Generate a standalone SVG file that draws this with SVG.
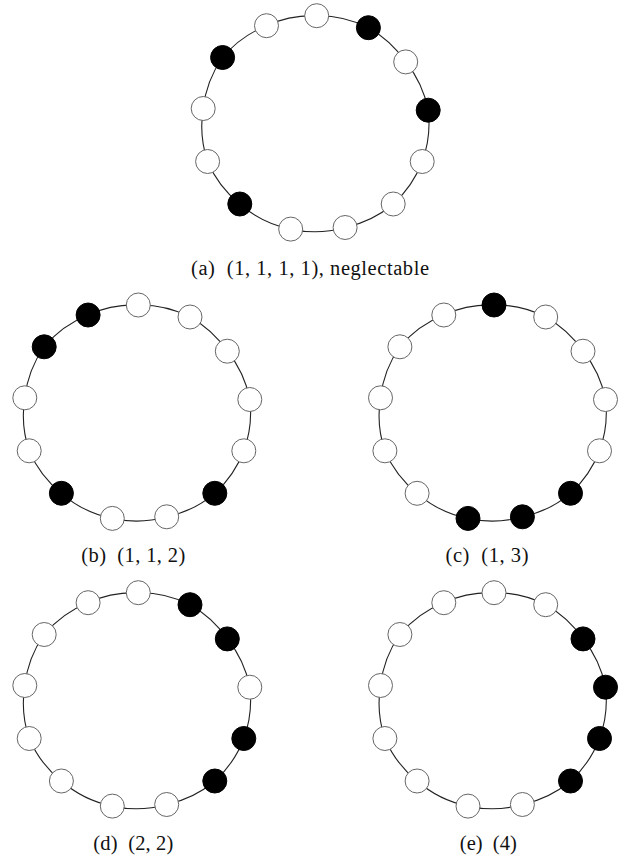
<svg xmlns="http://www.w3.org/2000/svg" xmlns:xlink="http://www.w3.org/1999/xlink" width="636" height="861" viewBox="0 0 636 861">
<style>
.ring{fill:none;stroke:#222;stroke-width:1.1}
.n{fill:#fff;stroke:#666;stroke-width:1}
.b{fill:#000;stroke:#000;stroke-width:1}
.lbl{font-family:"Liberation Serif","Times New Roman",serif;font-size:20.5px;fill:#111;text-anchor:middle}
</style>
<defs>
<path id="ring" d="M138.3,305 A110,110 0 0 1 190,317 A110,110 0 0 1 227.3,351.2 A110,110 0 0 1 249.8,399.5 A110,110 0 0 1 243.8,450.8 A110,110 0 0 1 214.8,493.3 A110,110 0 0 1 166.7,516.8 A110,110 0 0 1 112.3,518.4 A110,110 0 0 1 61.4,493.3 A110,110 0 0 1 29.2,450.8 A110,110 0 0 1 24.8,397.8 A110,110 0 0 1 44.2,346.8 A110,110 0 0 1 88.1,315 A110,110 0 0 1 138.3,305 Z"/>
</defs>
<rect width="636" height="861" fill="#fff"/>
<g id="connectors">
<use xlink:href="#ring" href="#ring" class="ring" transform="translate(178.4,-289.3)"/>
<use xlink:href="#ring" href="#ring" class="ring"/>
<use xlink:href="#ring" href="#ring" class="ring" transform="translate(355.7,0)"/>
<use xlink:href="#ring" href="#ring" class="ring" transform="translate(0,287.7)"/>
<use xlink:href="#ring" href="#ring" class="ring" transform="translate(355.7,287.7)"/>
</g>
<g id="panel-a" transform="translate(178.4,-289.3)">
<g id="a1"><circle class="n" cx="138.3" cy="305" r="12"/></g>
<g id="a2"><circle class="b" cx="190" cy="317" r="12"/></g>
<g id="a3"><circle class="n" cx="227.3" cy="351.2" r="12"/></g>
<g id="a4"><circle class="b" cx="249.8" cy="399.5" r="12"/></g>
<g id="a5"><circle class="n" cx="243.8" cy="450.8" r="12"/></g>
<g id="a6"><circle class="n" cx="214.8" cy="493.3" r="12"/></g>
<g id="a7"><circle class="n" cx="166.7" cy="516.8" r="12"/></g>
<g id="a8"><circle class="n" cx="112.3" cy="518.4" r="12"/></g>
<g id="a9"><circle class="b" cx="61.4" cy="493.3" r="12"/></g>
<g id="a10"><circle class="n" cx="29.2" cy="450.8" r="12"/></g>
<g id="a11"><circle class="n" cx="24.8" cy="397.8" r="12"/></g>
<g id="a12"><circle class="b" cx="44.2" cy="346.8" r="12"/></g>
<g id="a13"><circle class="n" cx="88.1" cy="315" r="12"/></g>
</g>
<g id="panel-b">
<g id="b1"><circle class="n" cx="138.3" cy="305" r="12"/></g>
<g id="b2"><circle class="n" cx="190" cy="317" r="12"/></g>
<g id="b3"><circle class="n" cx="227.3" cy="351.2" r="12"/></g>
<g id="b4"><circle class="n" cx="249.8" cy="399.5" r="12"/></g>
<g id="b5"><circle class="n" cx="243.8" cy="450.8" r="12"/></g>
<g id="b6"><circle class="b" cx="214.8" cy="493.3" r="12"/></g>
<g id="b7"><circle class="n" cx="166.7" cy="516.8" r="12"/></g>
<g id="b8"><circle class="n" cx="112.3" cy="518.4" r="12"/></g>
<g id="b9"><circle class="b" cx="61.4" cy="493.3" r="12"/></g>
<g id="b10"><circle class="n" cx="29.2" cy="450.8" r="12"/></g>
<g id="b11"><circle class="n" cx="24.8" cy="397.8" r="12"/></g>
<g id="b12"><circle class="b" cx="44.2" cy="346.8" r="12"/></g>
<g id="b13"><circle class="b" cx="88.1" cy="315" r="12"/></g>
</g>
<g id="panel-c" transform="translate(355.7,0)">
<g id="c1"><circle class="b" cx="138.3" cy="305" r="12"/></g>
<g id="c2"><circle class="n" cx="190" cy="317" r="12"/></g>
<g id="c3"><circle class="n" cx="227.3" cy="351.2" r="12"/></g>
<g id="c4"><circle class="n" cx="249.8" cy="399.5" r="12"/></g>
<g id="c5"><circle class="n" cx="243.8" cy="450.8" r="12"/></g>
<g id="c6"><circle class="b" cx="214.8" cy="493.3" r="12"/></g>
<g id="c7"><circle class="b" cx="166.7" cy="516.8" r="12"/></g>
<g id="c8"><circle class="b" cx="112.3" cy="518.4" r="12"/></g>
<g id="c9"><circle class="n" cx="61.4" cy="493.3" r="12"/></g>
<g id="c10"><circle class="n" cx="29.2" cy="450.8" r="12"/></g>
<g id="c11"><circle class="n" cx="24.8" cy="397.8" r="12"/></g>
<g id="c12"><circle class="n" cx="44.2" cy="346.8" r="12"/></g>
<g id="c13"><circle class="n" cx="88.1" cy="315" r="12"/></g>
</g>
<g id="panel-d" transform="translate(0,287.7)">
<g id="d1"><circle class="n" cx="138.3" cy="305" r="12"/></g>
<g id="d2"><circle class="b" cx="190" cy="317" r="12"/></g>
<g id="d3"><circle class="b" cx="227.3" cy="351.2" r="12"/></g>
<g id="d4"><circle class="n" cx="249.8" cy="399.5" r="12"/></g>
<g id="d5"><circle class="b" cx="243.8" cy="450.8" r="12"/></g>
<g id="d6"><circle class="b" cx="214.8" cy="493.3" r="12"/></g>
<g id="d7"><circle class="n" cx="166.7" cy="516.8" r="12"/></g>
<g id="d8"><circle class="n" cx="112.3" cy="518.4" r="12"/></g>
<g id="d9"><circle class="n" cx="61.4" cy="493.3" r="12"/></g>
<g id="d10"><circle class="n" cx="29.2" cy="450.8" r="12"/></g>
<g id="d11"><circle class="n" cx="24.8" cy="397.8" r="12"/></g>
<g id="d12"><circle class="n" cx="44.2" cy="346.8" r="12"/></g>
<g id="d13"><circle class="n" cx="88.1" cy="315" r="12"/></g>
</g>
<g id="panel-e" transform="translate(355.7,287.7)">
<g id="e1"><circle class="n" cx="138.3" cy="305" r="12"/></g>
<g id="e2"><circle class="n" cx="190" cy="317" r="12"/></g>
<g id="e3"><circle class="b" cx="227.3" cy="351.2" r="12"/></g>
<g id="e4"><circle class="b" cx="249.8" cy="399.5" r="12"/></g>
<g id="e5"><circle class="b" cx="243.8" cy="450.8" r="12"/></g>
<g id="e6"><circle class="b" cx="214.8" cy="493.3" r="12"/></g>
<g id="e7"><circle class="n" cx="166.7" cy="516.8" r="12"/></g>
<g id="e8"><circle class="n" cx="112.3" cy="518.4" r="12"/></g>
<g id="e9"><circle class="n" cx="61.4" cy="493.3" r="12"/></g>
<g id="e10"><circle class="n" cx="29.2" cy="450.8" r="12"/></g>
<g id="e11"><circle class="n" cx="24.8" cy="397.8" r="12"/></g>
<g id="e12"><circle class="n" cx="44.2" cy="346.8" r="12"/></g>
<g id="e13"><circle class="n" cx="88.1" cy="315" r="12"/></g>
</g>
<g id="labels">
<text class="lbl" x="310" y="275" xml:space="preserve" textLength="238" lengthAdjust="spacing">(a)  (1, 1, 1, 1), neglectable</text>
<text class="lbl" x="133.3" y="562" xml:space="preserve" textLength="104" lengthAdjust="spacing">(b)  (1, 1, 2)</text>
<text class="lbl" x="487" y="562" xml:space="preserve" textLength="83" lengthAdjust="spacing">(c)  (1, 3)</text>
<text class="lbl" x="133.3" y="850" xml:space="preserve" textLength="80" lengthAdjust="spacing">(d)  (2, 2)</text>
<text class="lbl" x="488.3" y="850" xml:space="preserve" textLength="57" lengthAdjust="spacing">(e)  (4)</text>
</g>
</svg>
